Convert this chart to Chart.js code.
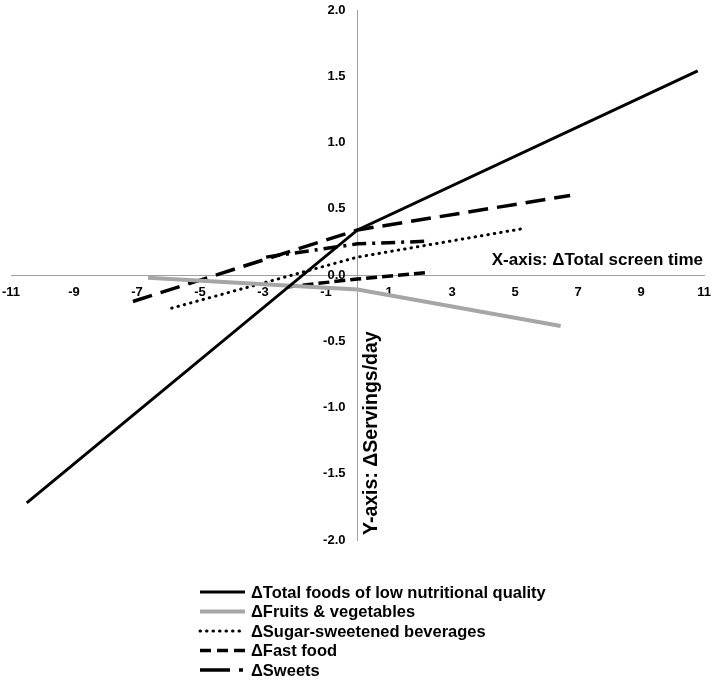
<!DOCTYPE html>
<html>
<head>
<meta charset="utf-8">
<script src="https://cdn.jsdelivr.net/npm/chart.js@4/dist/chart.umd.min.js"></script>
<style>
  html, body { margin: 0; padding: 0; background: #fff; }
  #wrap { width: 712px; height: 680px; position: relative; }
</style>
</head>
<body>
<div id="wrap"><canvas id="grafico"></canvas></div>
<script>
// values (x = change in screen time, y = change in servings/day)
const totalX = [-10.5, 0, 10.8];
const totalY = [-1.72, 0.34, 1.54];
const fruitsX = [-6.65, 0, 6.45];
const fruitsY = [-0.02, -0.11, -0.385];
const ssbX = [-5.9, 0, 5.25];
const ssbY = [-0.25, 0.135, 0.35];
const fastX = [-2.25, 0, 2.3];
const fastY = [-0.09, -0.03, 0.02];
const sweetsX = [-2.9, 0, 2.25];
const sweetsY = [0.135, 0.235, 0.255];
const longDashX = [-7.13, 0, 6.75];
const longDashY = [-0.2, 0.34, 0.6];

const labels = [
  'ΔTotal foods of low nutritional quality',
  'ΔFruits & vegetables',
  'ΔSugar-sweetened beverages',
  'ΔFast food',
  'ΔSweets'
];
const xTitle = 'X-axis: ΔTotal screen time';
const yTitle = 'Y-axis: ΔServings/day';

const pts = (xs, ys) => xs.map((x, i) => ({ x: x, y: ys[i] }));

const FONT = '"Liberation Sans", Arial, sans-serif';

// legend drawn on the canvas, one entry per row
const legendPlugin = {
  id: 'legendaLista',
  afterDraw(chart) {
    const ctx = chart.ctx;
    const x0 = 200, x1 = 245, y0 = 592, step = 19.5;
    let row = 0;
    chart.data.datasets.forEach((ds) => {
      if (!ds.legendDash) return;
      const y = y0 + row * step;
      ctx.save();
      ctx.strokeStyle = ds.borderColor;
      ctx.lineWidth = ds.legendWidth || ds.borderWidth;
      ctx.lineCap = ds.borderCapStyle || 'butt';
      ctx.setLineDash(ds.legendDash);
      ctx.beginPath();
      ctx.moveTo(x0, y);
      ctx.lineTo(x1, y);
      ctx.stroke();
      ctx.restore();
      ctx.save();
      ctx.fillStyle = '#000';
      ctx.font = 'bold 16.5px ' + FONT;
      ctx.textBaseline = 'middle';
      ctx.fillText(ds.label, x1 + 6, y + 1);
      ctx.restore();
      row++;
    });
  }
};

// axis titles and the y tick labels (kept a little off the centred axis)
const axisTextPlugin = {
  id: 'textosEixos',
  afterDraw(chart) {
    const ctx = chart.ctx;
    const xs = chart.scales.x, ys = chart.scales.y;
    const area = chart.chartArea;
    const x0 = xs.getPixelForValue(0);
    const y0 = ys.getPixelForValue(0);
    ctx.save();
    ctx.fillStyle = '#000';
    ctx.font = 'bold 13px ' + FONT;
    ctx.textAlign = 'right';
    ctx.textBaseline = 'middle';
    ys.ticks.forEach((t) => {
      ctx.fillText(Number(t.value).toFixed(1), x0 - 12, ys.getPixelForValue(t.value));
    });
    ctx.font = 'bold 17px ' + FONT;
    ctx.fillText(xTitle, area.right - 1, y0 - 15);
    ctx.font = 'bold 19.5px ' + FONT;
    ctx.translate(x0 + 14, area.bottom - 5);
    ctx.rotate(-Math.PI / 2);
    ctx.textAlign = 'left';
    ctx.fillText(yTitle, 0, 0);
    ctx.restore();
  }
};

// let the plot run right to the canvas edges, like the original
const noLabelPadding = (scale) => {
  scale.paddingLeft = 0;
  scale.paddingRight = 0;
  scale.paddingTop = 0;
  scale.paddingBottom = 0;
};

const config = {
  type: 'line',
  data: {
    datasets: [
      {
        label: labels[0],
        data: pts(totalX, totalY),
        borderColor: '#000',
        borderWidth: 3,
        legendDash: []
      },
      {
        label: labels[1],
        data: pts(fruitsX, fruitsY),
        borderColor: '#a6a6a6',
        borderWidth: 4,
        legendDash: []
      },
      {
        label: labels[2],
        data: pts(ssbX, ssbY),
        borderColor: '#000',
        borderWidth: 3,
        borderDash: [0.5, 6],
        borderCapStyle: 'round',
        legendDash: [0.5, 6]
      },
      {
        label: labels[3],
        data: pts(fastX, fastY),
        borderColor: '#000',
        borderWidth: 3.5,
        borderDash: [11, 5],
        legendDash: [11, 6]
      },
      {
        label: labels[4],
        data: pts(sweetsX, sweetsY),
        borderColor: '#000',
        borderWidth: 3.5,
        borderDash: [14, 6, 3, 6],
        legendDash: [30, 9, 4, 9]
      },
      {
        label: '',
        data: pts(longDashX, longDashY),
        borderColor: '#000',
        borderWidth: 3.5,
        borderDash: [20, 9]
      }
    ]
  },
  options: {
    responsive: true,
    maintainAspectRatio: false,
    animation: false,
    layout: { padding: { left: 11, right: 8, top: 10, bottom: 140 } },
    elements: {
      point: { radius: 0 },
      line: { tension: 0 }
    },
    plugins: {
      legend: { display: false },
      tooltip: { enabled: false }
    },
    scales: {
      x: {
        type: 'linear',
        position: { y: 0 },
        min: -11,
        max: 11,
        afterFit: noLabelPadding,
        grid: { display: false, drawTicks: false },
        border: { display: true, color: '#a0a0a0', width: 1 },
        ticks: {
          stepSize: 2,
          padding: 10,
          maxRotation: 0,
          autoSkip: false,
          color: '#000',
          font: { family: FONT, size: 13, weight: 'bold' }
        }
      },
      y: {
        type: 'linear',
        position: { x: 0 },
        min: -2,
        max: 2,
        afterFit: noLabelPadding,
        grid: { display: false, drawTicks: false },
        border: { display: true, color: '#a0a0a0', width: 1 },
        ticks: {
          stepSize: 0.5,
          color: 'rgba(0,0,0,0)',
          font: { family: FONT, size: 13, weight: 'bold' },
          callback: (v) => Number(v).toFixed(1)
        }
      }
    }
  },
  plugins: [legendPlugin, axisTextPlugin]
};

new Chart(document.getElementById('grafico'), config);
</script>
</body>
</html>
